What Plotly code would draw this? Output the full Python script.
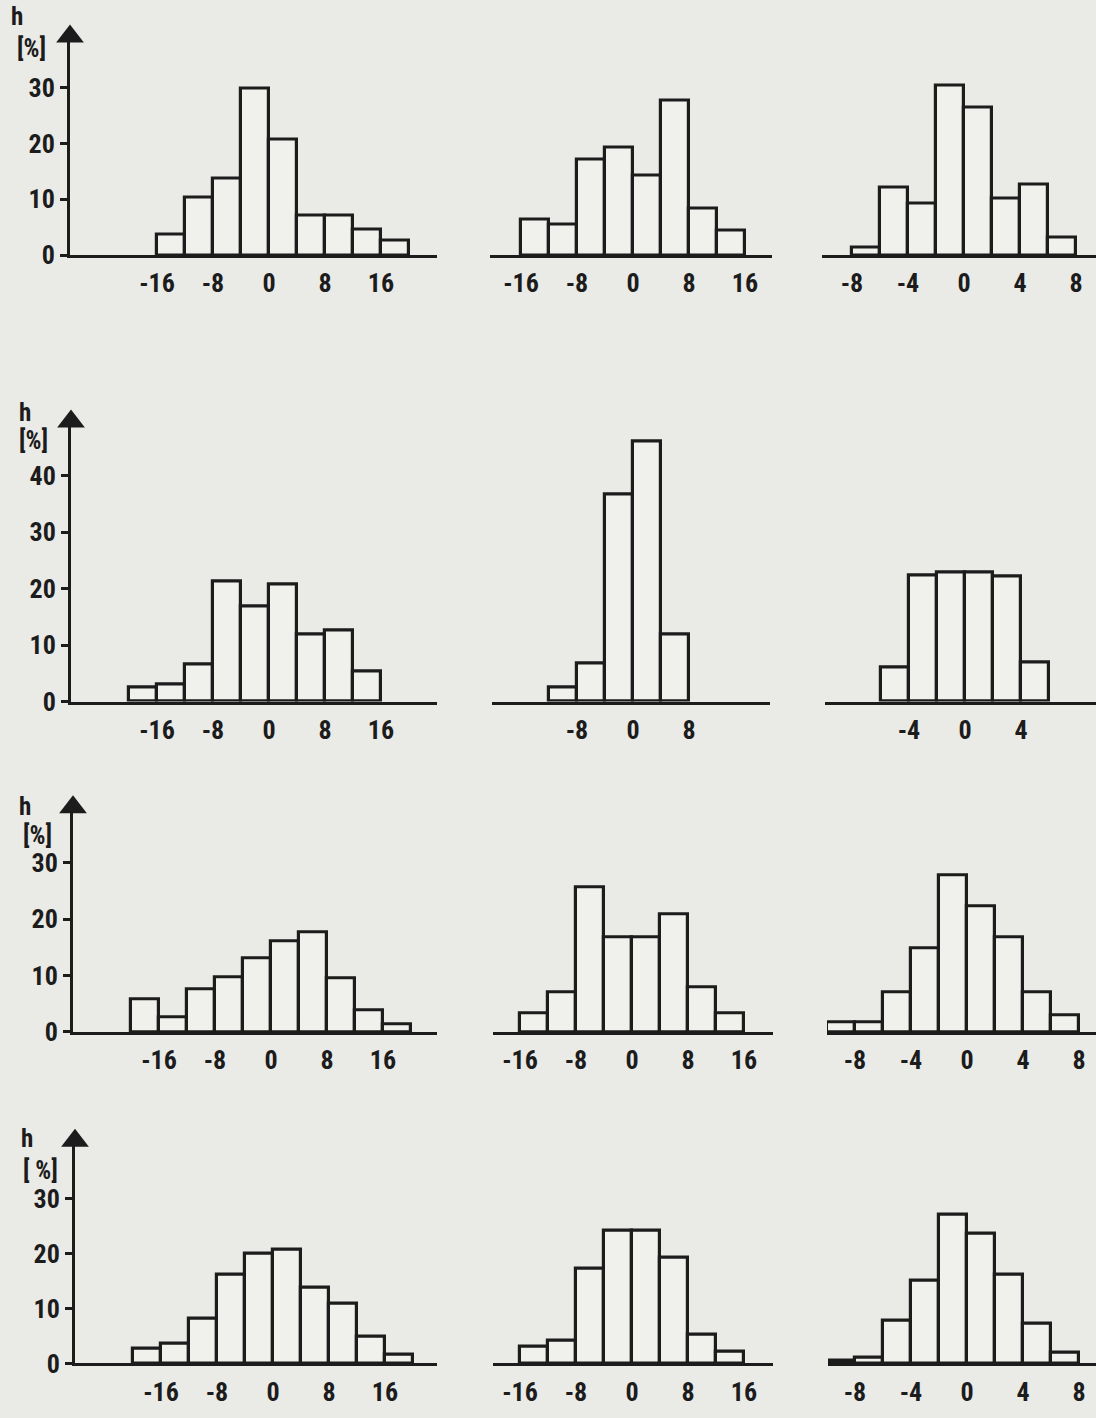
import plotly.graph_objects as go

# ---------------- data ----------------
# each histogram: first bin edge, bin width, bar heights h [%]
r1c1_start, r1c1_width = -16, 4
r1c1_h = [3.7, 10.3, 13.8, 29.9, 20.7, 7.1, 7.1, 4.6, 2.7]
r1c2_start, r1c2_width = -16, 4
r1c2_h = [6.4, 5.5, 17.2, 19.3, 14.2, 27.6, 8.3, 4.4]
r1c3_start, r1c3_width = -8, 2
r1c3_h = [1.4, 12.1, 9.2, 30.3, 26.4, 10.1, 12.6, 3.2]

r2c1_start, r2c1_width = -20, 4
r2c1_h = [2.5, 3.0, 6.5, 21.2, 16.8, 20.7, 11.8, 12.6, 5.3]
r2c2_start, r2c2_width = -12, 4
r2c2_h = [2.5, 6.7, 36.7, 46.1, 11.9]
r2c3_start, r2c3_width = -6, 2
r2c3_h = [6.1, 22.3, 22.8, 22.8, 22.1, 7.0]

r3c1_start, r3c1_width = -20, 4
r3c1_h = [5.8, 2.6, 7.5, 9.7, 13.1, 16.1, 17.7, 9.5, 3.9, 1.4]
r3c2_start, r3c2_width = -16, 4
r3c2_h = [3.3, 7.0, 25.6, 16.8, 16.8, 20.9, 7.9, 3.3]
r3c3_start, r3c3_width = -10, 2
r3c3_h = [1.7, 1.7, 7.0, 14.9, 27.7, 22.3, 16.7, 7.0, 3.0]

r4c1_start, r4c1_width = -20, 4
r4c1_h = [2.7, 3.6, 8.1, 16.2, 20.0, 20.7, 13.7, 10.8, 4.9, 1.6]
r4c2_start, r4c2_width = -16, 4
r4c2_h = [3.1, 4.1, 17.3, 24.1, 24.1, 19.3, 5.2, 2.2]
r4c3_start, r4c3_width = -10, 2
r4c3_h = [0.5, 1.1, 7.7, 15.1, 27.0, 23.6, 16.2, 7.2, 2.0]

# tick labels
xt_wide = ["-16", "-8", "0", "8", "16"]
xt_wide_vals = [-16, -8, 0, 8, 16]
xt_mid = ["-8", "0", "8"]
xt_mid_vals = [-8, 0, 8]
xt_narrow = ["-8", "-4", "0", "4", "8"]
xt_narrow_vals = [-8, -4, 0, 4, 8]
xt_narrow3 = ["-4", "0", "4"]
xt_narrow3_vals = [-4, 0, 4]
yt_30 = [0, 10, 20, 30]
yt_40 = [0, 10, 20, 30, 40]
y_title_lines = [["h", "[%]"], ["h", "[%]"], ["h", "[%]"], ["h", "[ %]"]]

hist = [
    [(r1c1_start, r1c1_width, r1c1_h), (r1c2_start, r1c2_width, r1c2_h), (r1c3_start, r1c3_width, r1c3_h)],
    [(r2c1_start, r2c1_width, r2c1_h), (r2c2_start, r2c2_width, r2c2_h), (r2c3_start, r2c3_width, r2c3_h)],
    [(r3c1_start, r3c1_width, r3c1_h), (r3c2_start, r3c2_width, r3c2_h), (r3c3_start, r3c3_width, r3c3_h)],
    [(r4c1_start, r4c1_width, r4c1_h), (r4c2_start, r4c2_width, r4c2_h), (r4c3_start, r4c3_width, r4c3_h)],
]
xticks = [
    [(xt_wide_vals, xt_wide), (xt_wide_vals, xt_wide), (xt_narrow_vals, xt_narrow)],
    [(xt_wide_vals, xt_wide), (xt_mid_vals, xt_mid), (xt_narrow3_vals, xt_narrow3)],
    [(xt_wide_vals, xt_wide), (xt_wide_vals, xt_wide), (xt_narrow_vals, xt_narrow)],
    [(xt_wide_vals, xt_wide), (xt_wide_vals, xt_wide), (xt_narrow_vals, xt_narrow)],
]
yticks = [yt_30, yt_40, yt_30, yt_30]

# ---------------- layout geometry (pixels) ----------------
W, H = 1096, 1418
BG = "#eaeae7"
FILL = "#f0f0ed"
INK = "#1c1c1c"
FONT = "Liberation Sans Narrow, Roboto Condensed, Roboto, sans-serif"

row_base = [258, 709, 1043, 1378]
row_tip = [25, 414, 804, 1141]
row_pxu = [5.65, 5.7, 5.7, 5.55]
col_left = [[70, 490, 822], [71, 492, 825], [73, 493, 827], [75, 493, 828]]
col_zero = [[269, 633, 964], [269, 633, 965], [271, 632, 967], [273, 632, 967]]
col_right = [[437, 772, 1096], [437, 770, 1096], [437, 773, 1096], [437, 773, 1096]]
col_pxu = [7, 7, 14]
ARROW = 24
# y-title text positions (pixels: x center, y top)
h_pos = [(17, 0), (25, 400), (25, 798), (27, 1134)]
pct_pos = [(31, 32), (33, 429), (37, 828), (40, 1166)]

fig = go.Figure()
layout = dict(
    width=W, height=H, margin=dict(l=0, r=0, t=0, b=0),
    paper_bgcolor=BG, plot_bgcolor="rgba(0,0,0,0)",
    showlegend=False, bargap=0,
    font=dict(family=FONT, color=INK, size=24, weight="bold"),
)
annotations = []

k = 0
for r in range(4):
    for c in range(3):
        k += 1
        start, width, h = hist[r][c]
        centers = [start + width * (i + 0.5) for i in range(len(h))]
        xa = "x" if k == 1 else f"x{k}"
        ya = "y" if k == 1 else f"y{k}"
        fig.add_trace(go.Bar(
            x=centers, y=h, width=[width] * len(h),
            marker=dict(color=FILL, line=dict(color=INK, width=3.2)),
            xaxis=xa, yaxis=ya, hoverinfo="skip",
        ))
        xl, x0, xr = col_left[r][c], col_zero[r][c], col_right[r][c]
        pxu = col_pxu[c]
        top_px = row_tip[r] + ARROW / 2
        ymax = (row_base[r] - top_px) / row_pxu[r]
        xmin = (xl - x0) / pxu
        xmax = (xr - x0) / pxu
        tv, tt = xticks[r][c]
        layout["xaxis" if k == 1 else f"xaxis{k}"] = dict(
            domain=[xl / W, xr / W], range=[xmin, xmax], anchor=ya,
            showline=True, linecolor=INK, linewidth=3, showgrid=False, zeroline=False,
            tickvals=tv, ticktext=tt, ticks="", ticklabelstandoff=3,
            tickfont=dict(family=FONT, size=26, color=INK, weight="bold"),
            fixedrange=True,
        )
        ydict = dict(
            domain=[1 - row_base[r] / H, 1 - top_px / H], range=[0, ymax], anchor=xa,
            showgrid=False, zeroline=False, fixedrange=True,
        )
        if c == 0:
            ydict.update(
                showline=True, linecolor=INK, linewidth=3,
                ticks="outside", ticklen=7, tickwidth=3, tickcolor=INK,
                tickvals=yticks[r], ticktext=[str(v) for v in yticks[r]],
                tickfont=dict(family=FONT, size=26, color=INK, weight="bold"),
            )
            # arrow head on top of y axis
            fig.add_trace(go.Scatter(
                x=[xmin], y=[ymax], mode="markers", cliponaxis=False,
                marker=dict(symbol="triangle-up", size=ARROW, color=INK),
                xaxis=xa, yaxis=ya, hoverinfo="skip",
            ))
            t1, t2 = y_title_lines[r]
            annotations.append(dict(
                text=t1, xref="paper", yref="paper", x=h_pos[r][0] / W,
                y=1 - h_pos[r][1] / H, xanchor="center", yanchor="top",
                showarrow=False, font=dict(family=FONT, size=25, color=INK, weight="bold"),
            ))
            annotations.append(dict(
                text=t2, xref="paper", yref="paper", x=pct_pos[r][0] / W,
                y=1 - pct_pos[r][1] / H, xanchor="center", yanchor="top",
                showarrow=False, font=dict(family=FONT, size=25, color=INK, weight="bold"),
            ))
        else:
            ydict.update(visible=False)
        layout["yaxis" if k == 1 else f"yaxis{k}"] = ydict

layout["annotations"] = annotations
fig.update_layout(**layout)
fig.write_html("out.html")
